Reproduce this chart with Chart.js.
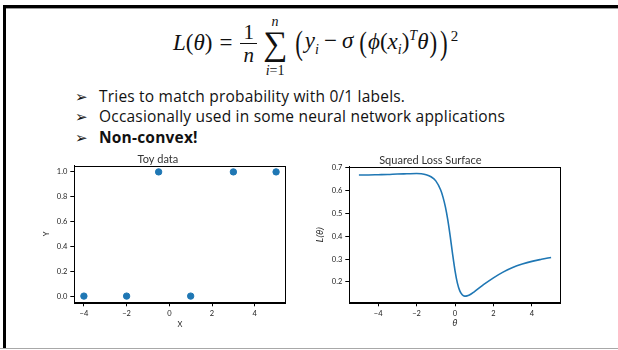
<!DOCTYPE html>
<html>
<head>
<meta charset="utf-8">
<script src="https://cdn.jsdelivr.net/npm/chart.js@4/dist/chart.umd.min.js"></script>
<style>
  html, body { margin: 0; padding: 0; background: #fff; }
  #slide { position: relative; width: 618px; height: 350px; overflow: hidden; font-family: "Open Sans", sans-serif; }
  .bar-top { position: absolute; left: 3px; top: 5px; width: 615px; height: 3px; background: #000; }
  .bar-top2 { position: absolute; left: 3px; top: 8px; width: 615px; height: 1px; background: #9a9a9a; }
  .bar-left { position: absolute; left: 3px; top: 5px; width: 3px; height: 343px; background: #000; }
  .bar-bottom { position: absolute; left: 0; top: 348px; width: 618px; height: 1px; background: #a8a8a8; }

  .formula { position: absolute; left: 173px; top: 16px; height: 60px; display: flex; align-items: center;
             font-family: "Liberation Serif", serif; font-size: 23px; color: #111; white-space: nowrap; }
  .formula i { font-style: italic; }
  .formula .gap { display: inline-block; width: 7px; }
  .formula .sp { display: inline-block; width: 5px; }
  .formula .frac { display: inline-flex; flex-direction: column; align-items: center;
                   font-size: 21px; line-height: 20px; margin: 0 4px 0 1px; position: relative; top: -3px; }
  .formula .frac .num { border-bottom: 1px solid #111; padding: 0 3px 1px 3px; }
  .formula .frac .den { padding-top: 1px; }
  .formula .sum { display: inline-flex; flex-direction: column; align-items: center;
                  margin: 0 6px 0 2px; position: relative; top: 0px; }
  .formula .sum .lim { font-size: 14px; line-height: 13px; }
  .formula .sum .sig { font-size: 34px; line-height: 36px; position: relative; top: -2px; }
  .formula .big { display: inline-block; transform: scaleY(1.5); position: relative; top: -3px; margin: 0 2px; }
  .formula .mid { display: inline-block; transform: scaleY(1.25); position: relative; top: -3px; margin: 0 1px; }
  .formula .body { position: relative; top: -3px; }
  .formula sub, .formula sup { font-size: 14px; }
  .formula sup.sq { position: relative; top: -10px; font-size: 15px; margin-left: 1px; }

  .bullets { position: absolute; left: 75px; top: 87px; font-size: 15.5px; letter-spacing: 0.2px; color: #111; line-height: 19.3px; }
  .bullets div { white-space: nowrap; }
  .bullets .arr { display: inline-block; width: 24px; font-family: "DejaVu Sans", sans-serif; font-size: 15px; letter-spacing: 0; }
  .bullets b { font-weight: 700; }

  canvas { position: absolute; }
  #toy { left: 30px; top: 150px; }
  #loss { left: 300px; top: 150px; }
</style>
</head>
<body>
<div id="slide">
  <div class="bar-top"></div>
  <div class="bar-top2"></div>
  <div class="bar-left"></div>
  <div class="bar-bottom"></div>

  <div class="formula">
    <span class="body"><i>L</i>(<i>θ</i>)<span class="gap"></span>=<span class="gap"></span></span><span class="frac"><span class="num">1</span><span class="den"><i>n</i></span></span><span class="sum"><span class="lim"><i>n</i></span><span class="sig">∑</span><span class="lim"><i>i</i>=1</span></span><span class="big">(</span><span class="body"><i>y</i><sub><i>i</i></sub><span class="sp"></span>−<span class="sp"></span><i>σ</i><span class="sp"></span></span><span class="mid">(</span><span class="body"><i>ϕ</i>(<i>x</i><sub><i>i</i></sub>)<sup><i>T</i></sup><i>θ</i></span><span class="mid">)</span><span class="big">)</span><sup class="sq">2</sup>
  </div>

  <div class="bullets">
    <div><span class="arr">➢</span>Tries to match probability with 0/1 labels.</div>
    <div><span class="arr">➢</span>Occasionally used in some neural network applications</div>
    <div><span class="arr">➢</span><b>Non-convex!</b></div>
  </div>

  <canvas id="toy" width="265" height="180"></canvas>
  <canvas id="loss" width="270" height="180"></canvas>
</div>

<script>
// toy data (left plot)
var toyX = [-4, -2, -0.5, 1, 3, 5];
var toyY = [0, 0, 1, 0, 1, 1];
var toyXTicks = [-4, -2, 0, 2, 4];
var toyYTicks = [0, 0.2, 0.4, 0.6, 0.8, 1.0];

// squared loss surface (right plot)
var theta = [-5, -4.5, -4, -3.5, -3, -2.5, -2, -1.75, -1.5, -1.25, -1, -0.75, -0.625, -0.5, -0.375,
             -0.25, -0.125, 0, 0.125, 0.25, 0.375, 0.5, 0.625, 0.75, 1, 1.5, 2, 2.5, 3, 3.5, 4, 4.5, 5];
var loss = [0.668, 0.668, 0.669, 0.670, 0.672, 0.673, 0.674, 0.673, 0.669, 0.660, 0.642, 0.603, 0.571,
            0.528, 0.471, 0.400, 0.322, 0.250, 0.195, 0.161, 0.144, 0.138, 0.139, 0.143, 0.157, 0.189,
            0.218, 0.243, 0.263, 0.278, 0.290, 0.299, 0.307];
var lossXTicks = [-4, -2, 0, 2, 4];
var lossYTicks = [0.2, 0.3, 0.4, 0.5, 0.6, 0.7];

var BLUE = '#1f77b4';
var TICK_FONT = { family: 'Lato, sans-serif', size: 7.5 };
var TITLE_FONT = { family: 'Lato, sans-serif', size: 11, weight: 'normal' };

// matplotlib style closed axes box
var framePlugin = {
    id: 'frame',
    afterDraw: function (chart) {
        var a = chart.chartArea, ctx = chart.ctx;
        ctx.save();
        ctx.strokeStyle = '#000';
        ctx.lineWidth = 1;
        ctx.strokeRect(Math.round(a.left) + 0.5, Math.round(a.top) + 0.5,
                       Math.round(a.right - a.left), Math.round(a.bottom - a.top));
        ctx.restore();
    }
};

function minusSign(v) { return String(v).replace('-', '\u2212'); }

function axis(opts) {
    return {
        type: 'linear',
        min: opts.min,
        max: opts.max,
        afterBuildTicks: function (s) { s.ticks = opts.ticks.map(function (v) { return { value: v }; }); },
        afterFit: opts.fit,
        grid: { display: true, drawOnChartArea: false, drawTicks: true, tickLength: 4, color: '#000', lineWidth: 1 },
        border: { display: true, color: '#000', width: 1 },
        ticks: { color: '#222', font: TICK_FONT, padding: opts.pad, maxRotation: 0, autoSkip: false,
                 callback: opts.fmt },
        title: { display: true, text: opts.title, color: '#222', font: opts.titleFont || TICK_FONT, padding: opts.titlePad }
    };
}

new Chart(document.getElementById('toy').getContext('2d'), {
    type: 'scatter',
    data: {
        datasets: [{
            data: toyX.map(function (x, i) { return { x: x, y: toyY[i] }; }),
            backgroundColor: BLUE,
            borderColor: BLUE,
            pointRadius: 3.2,
            pointHoverRadius: 3.2
        }]
    },
    options: {
        responsive: false,
        animation: false,
        events: [],
        layout: { padding: { left: 0, right: 9.3, top: 0, bottom: 0 } },
        plugins: {
            legend: { display: false },
            tooltip: { enabled: false },
            title: { display: true, text: 'Toy data', color: '#333', font: TITLE_FONT, padding: { top: 2.5, bottom: 0 } }
        },
        scales: {
            x: axis({ min: -4.45, max: 5.45, ticks: toyXTicks, pad: 3, title: 'X',
                      titlePad: { top: 0, bottom: 1.2 },
                      fmt: function (v) { return minusSign(v); },
                      fit: function (s) { s.height = 27.7; } }),
            y: axis({ min: -0.05, max: 1.05, ticks: toyYTicks, pad: 3, title: 'Y',
                      titlePad: { top: 12, bottom: 0 },
                      fmt: function (v) { return v.toFixed(1); },
                      fit: function (s) { s.width = 44.3; } })
        }
    },
    plugins: [framePlugin]
});

new Chart(document.getElementById('loss').getContext('2d'), {
    type: 'line',
    data: {
        datasets: [{
            data: theta.map(function (t, i) { return { x: t, y: loss[i] }; }),
            borderColor: BLUE,
            borderWidth: 1.6,
            pointRadius: 0,
            fill: false,
            cubicInterpolationMode: 'monotone'
        }]
    },
    options: {
        responsive: false,
        animation: false,
        events: [],
        layout: { padding: { left: 0, right: 9.3, top: 0, bottom: 0 } },
        plugins: {
            legend: { display: false },
            tooltip: { enabled: false },
            title: { display: true, text: 'Squared Loss Surface', color: '#333', font: TITLE_FONT, padding: { top: 3.5, bottom: 0 } }
        },
        scales: {
            x: axis({ min: -5.5, max: 5.5, ticks: lossXTicks, pad: 3, title: 'θ',
                      titleFont: { family: 'DejaVu Sans', size: 8, style: 'italic' },
                      titlePad: { top: 0, bottom: 1 },
                      fmt: function (v) { return minusSign(v); },
                      fit: function (s) { s.height = 27.7; } }),
            y: axis({ min: 0.111, max: 0.704, ticks: lossYTicks, pad: 3, title: 'L(θ)',
                      titleFont: { family: 'DejaVu Sans', size: 8, style: 'italic' },
                      titlePad: { top: 16, bottom: 0 },
                      fmt: function (v) { return v.toFixed(1); },
                      fit: function (s) { s.width = 49.3; } })
        }
    },
    plugins: [framePlugin]
});
</script>
</body>
</html>
